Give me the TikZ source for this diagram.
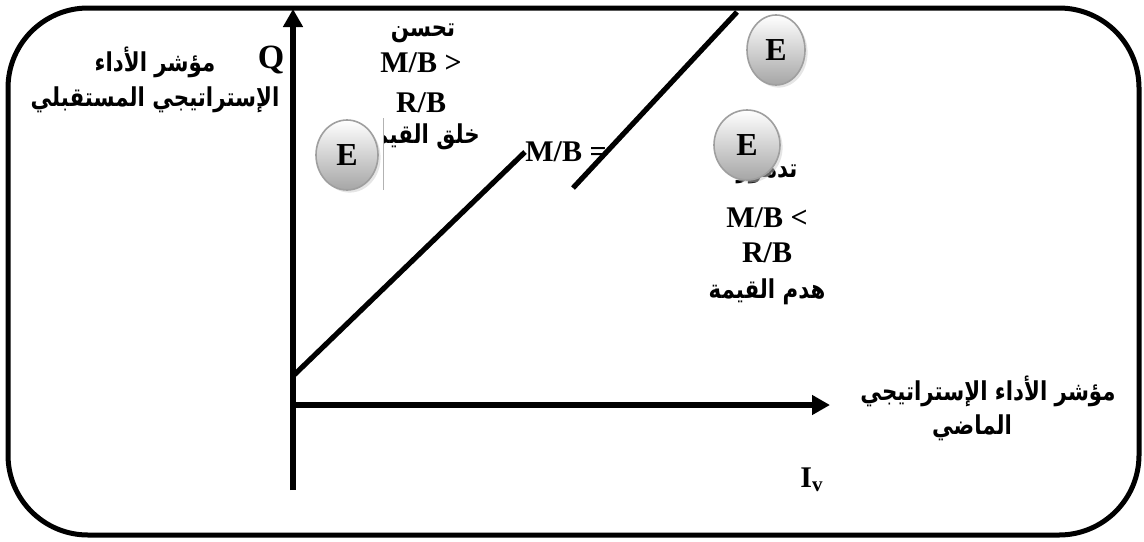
\documentclass[tikz,border=0pt]{standalone}
\usepackage{fontspec}
\setmainfont{Liberation Serif}
\newfontfamily\arabicfont[Script=Arabic,FakeStretch=0.82]{DejaVu Sans}
\TeXXeTstate=1
\usetikzlibrary{arrows.meta}
\usetikzlibrary{shapes.geometric}
\usetikzlibrary{shadows}
\tikzset{ebubble/.style={ellipse, draw=gray!75, line width=0.8pt,
    minimum width=31pt, minimum height=35pt, inner sep=0pt,
    top color=white, bottom color=gray!70,
    drop shadow={shadow xshift=1.3pt, shadow yshift=-1.3pt, fill=gray!40},
    font=\fontsize{16}{16}\selectfont\bfseries},
  lat/.style={font=\fontsize{15}{15}\selectfont\bfseries, inner sep=0pt},
  arab/.style={font=\arabicfont\fontsize{13}{13}\selectfont\bfseries, inner sep=0pt},
  axis/.style={line width=3pt, -{Triangle[length=9pt,width=9.5pt]}},
  valline/.style={line width=2.6pt}
}
\newcommand{\rtltext}[1]{\beginR #1\endR}

\begin{document}
\begin{tikzpicture}[x=0.5pt,y=-0.5pt]
                \useasboundingbox (0,0) rectangle (1144,541);
                \draw[line width=2.5pt, rounded corners=40pt] (8,8) rectangle (1139,535);  % Frame
                
                % Axes
                \coordinate (origin) at (293,490);
                \coordinate (qtop) at (293,9);
                \coordinate (xstart) at (293,405);
                \coordinate (xend) at (830,405);
                \draw[axis] (origin) -- (qtop);
                \draw[axis] (xstart) -- (xend);
                
                % Value lines
                \node[lat] (mbe) at (566,152) {M/B =};
                \coordinate (v1) at (293,376);
                \draw[valline] (v1) -- (mbe.west);
                \coordinate (v2a) at (573,188);
                \coordinate (v2b) at (737,12);
                \draw[valline] (v2a) -- (v2b);
                
                % Value creation
                \node[arab] (tahsn) at (423,33) {\rtltext{تحسن}};
                \node[lat] (mbg) at (421,63) {M/B >};
                \node[lat] (rbg) at (421,103) {R/B};
                \begin{scope}
                \clip (383,115) rectangle (520,165);
                \node[arab] (khalq) at (421,137) {\rtltext{خلق القيمة}};
                \end{scope}
                \draw[gray!60, line width=0.4pt] (383,118) -- (383,190);
                
                % Value destruction
                \node[arab] (tadh) at (767,174) {\rtltext{تدهور}};
                \node[lat] (mbl) at (767,218) {M/B <};
                \node[lat] (rbl) at (767,253) {R/B};
                \node[arab] (hadm) at (767,292) {\rtltext{هدم القيمة}};
                
                % Bubbles
                \node[ebubble] (e1) at (347,155) {E};
                \node[ebubble, minimum width=29pt] (e2) at (776,50) {E};
                \node[ebubble, minimum width=33pt] (e3) at (747,145) {E};
                
                % Labels
                \node[lat, font=\fontsize{17}{17}\selectfont\bfseries] (q) at (271,60) {Q};
                \node[arab] (ylab1) at (155,62) {\rtltext{مؤشر الأداء}};
                \node[arab] (ylab2) at (155,100) {\rtltext{الإستراتيجي المستقبلي}};
                \node[arab] (xlab1) at (988,391) {\rtltext{مؤشر الأداء الإستراتيجي}};
                \node[arab] (xlab2) at (972,428) {\rtltext{الماضي}};
                \node[lat] (iv) at (812,480) {I\textsubscript{v}};
\end{tikzpicture}
\end{document}
